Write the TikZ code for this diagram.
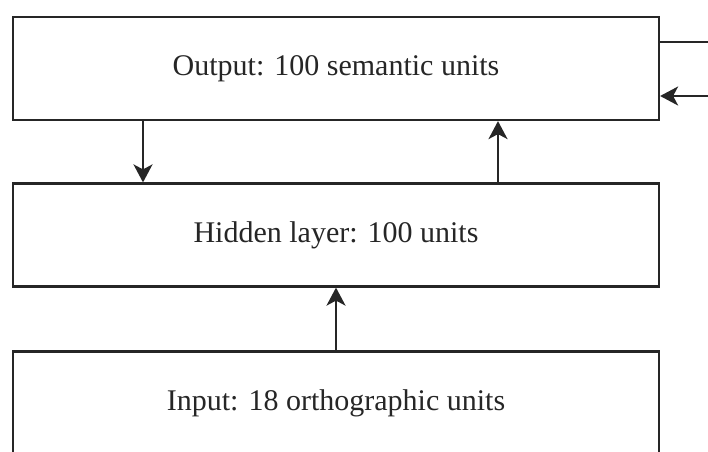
\documentclass[tikz,border=0pt]{standalone}
\usepackage{fontspec}
\setmainfont{Liberation Serif}
\usetikzlibrary{arrows.meta}
\definecolor{ink}{HTML}{262626}
\tikzset{
  layerbox/.style={draw=ink, line width=2.2pt, fill=white, minimum width=646pt,
    minimum height=103pt, inner sep=0pt, text=ink,
    font=\fontsize{30}{36}\selectfont},
  conn/.style={draw=ink, line width=2.2pt},
  arr/.style={conn, -{Stealth[length=18pt, width=19pt, inset=5pt]}}
}
\begin{document}
\begin{tikzpicture}[x=1pt, y=-1pt]
  \useasboundingbox (0,0) rectangle (708,451);
  \clip (0,0) rectangle (708,451);
  % three layers of the network
  \node[layerbox] (out) at (336,68.5) {Output: 100 semantic units};
  \node[layerbox] (hid) at (336,235)  {Hidden layer: 100 units};
  \node[layerbox] (inp) at (336,403)  {Input: 18 orthographic units};
  % feedback loop leaving and re-entering the output layer
  \coordinate (fbOut) at (708,42);
  \coordinate (fbIn)  at (708,96);
  % connections between layers
  \draw[arr] ([xshift=-193pt]out.south) -- ([xshift=-193pt]hid.north);
  \draw[arr] ([xshift=162pt]hid.north) -- ([xshift=162pt]out.south);
  \draw[arr] (inp.north) -- (hid.south);
  \draw[conn] (out.east |- fbOut) -- (fbOut);
  \draw[arr] (fbIn) -- (out.east |- fbIn);
\end{tikzpicture}
\end{document}
